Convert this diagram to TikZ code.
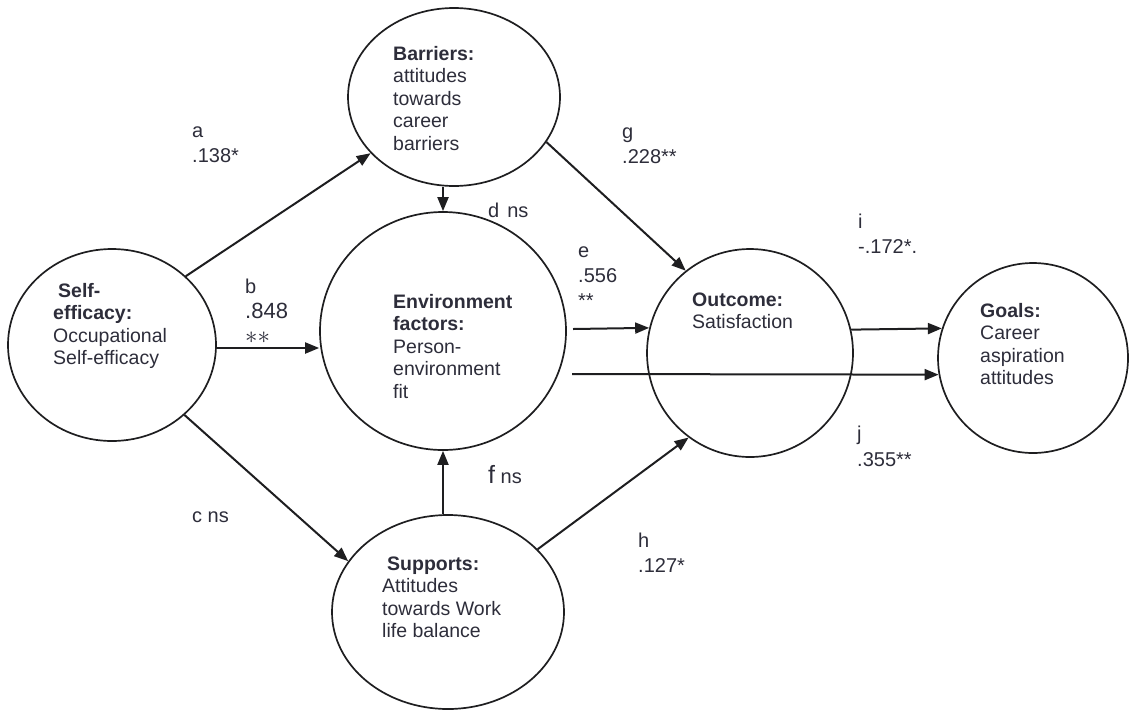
\documentclass[tikz,border=0pt]{standalone}
\usepackage{fontspec}
\setmainfont{Liberation Sans}
\usetikzlibrary{shapes.geometric,arrows.meta}
\definecolor{inkc}{RGB}{30,30,32}
\definecolor{txtc}{RGB}{45,45,58}
\newcommand{\mylines}[1]{\begin{tabular}[t]{@{}l@{}}#1\end{tabular}}
\tikzset{
  oval/.style={ellipse, draw=inkc, line width=1.7pt, inner sep=0pt},
  path arrow/.style={draw=inkc, line width=2pt, -{Triangle[length=14pt,width=11pt]}},
  nodetext/.style={anchor=base west, inner sep=0pt, text=txtc,
     font=\fontsize{19.5}{22.5}\selectfont},
  lbl/.style={anchor=base west, inner sep=0pt, text=txtc,
     font=\fontsize{20}{25}\selectfont},
}
\begin{document}
\begin{tikzpicture}[x=1pt,y=-1pt]
\useasboundingbox (0,0) rectangle (1132,710);
% ellipses
\node[oval, minimum width=208pt, minimum height=192pt] (self) at (112,345) {};
\node[oval, minimum width=212pt, minimum height=178pt] (barr) at (454,97) {};
\node[oval, minimum width=246pt, minimum height=238pt] (env) at (443,331) {};
\node[oval, minimum width=206pt, minimum height=208pt] (out) at (750,353) {};
\node[oval, minimum width=190pt, minimum height=190pt] (goals) at (1033,358) {};
\node[oval, minimum width=232pt, minimum height=194pt] (supp) at (448,612) {};
% node texts
\node[nodetext] (tself) at (53,297) {\mylines{\hspace{5pt}\textbf{Self-}\\ \textbf{efficacy:}\\ Occupational\\ Self-efficacy}};
\node[nodetext] (tbarr) at (393,60) {\mylines{\textbf{Barriers:}\\ attitudes\\ towards\\ career\\ barriers}};
\node[nodetext] (tenv) at (393,308) {\mylines{\textbf{Environment}\\ \textbf{factors:}\\ Person-\\ environment\\ fit}};
\node[nodetext] (tout) at (692,306) {\mylines{\textbf{Outcome:}\\ Satisfaction}};
\node[nodetext] (tgoals) at (980,317) {\mylines{\textbf{Goals:}\\ Career\\ aspiration\\ attitudes}};
\node[nodetext] (tsupp) at (382,570) {\mylines{\hspace{5pt}\textbf{Supports:}\\ Attitudes\\ towards Work\\ life balance}};
% free ends
\coordinate (eS) at (573,329);
\coordinate (jS) at (572,374);
% connectors
\draw[path arrow] (self.43) -- (barr.214);
\draw[path arrow] (self.east |- 0,348) -- (env.west |- 0,348);
\draw[path arrow] (self.316) -- (supp.153);
\draw[path arrow] (barr.south -| env.north) -- (env.north);
\draw[path arrow] (eS) -- (out.166);
\draw[path arrow] (jS) -- (goals.190);
\draw[path arrow] (out.13.5) -- (goals.162);
\draw[path arrow] (barr.334) -- (out.128.7);
\draw[path arrow] (supp.north -| env.south) -- (env.south);
\draw[path arrow] (supp.35) -- (out.234);
% labels
\node[lbl] (la) at (192,137) {\mylines{a\\ .138*}};
\node[lbl] (lb) at (245,293) {\mylines{b\\ {\fontsize{22}{25}\selectfont .848}\\ {\fontsize{24}{25}\selectfont$\ast\ast$}}};
\node[lbl] (lc) at (192,522) {c ns};
\node[lbl] (ld) at (488,217) {d\hspace{8pt}ns};
\node[lbl] (le) at (578,257) {\mylines{e\\ .556\\ {}**}};
\node[lbl] (lf) at (488,483) {{\fontsize{25}{25}\selectfont f} ns};
\node[lbl] (lg) at (622,138) {\mylines{g\\ .228**}};
\node[lbl] (lh) at (638,547) {\mylines{h\\ .127*}};
\node[lbl] (li) at (858,228) {\mylines{i\\ -.172*.}};
\node[lbl] (lj) at (857,440) {\mylines{j\\[1pt] .355**}};
\end{tikzpicture}
\end{document}
